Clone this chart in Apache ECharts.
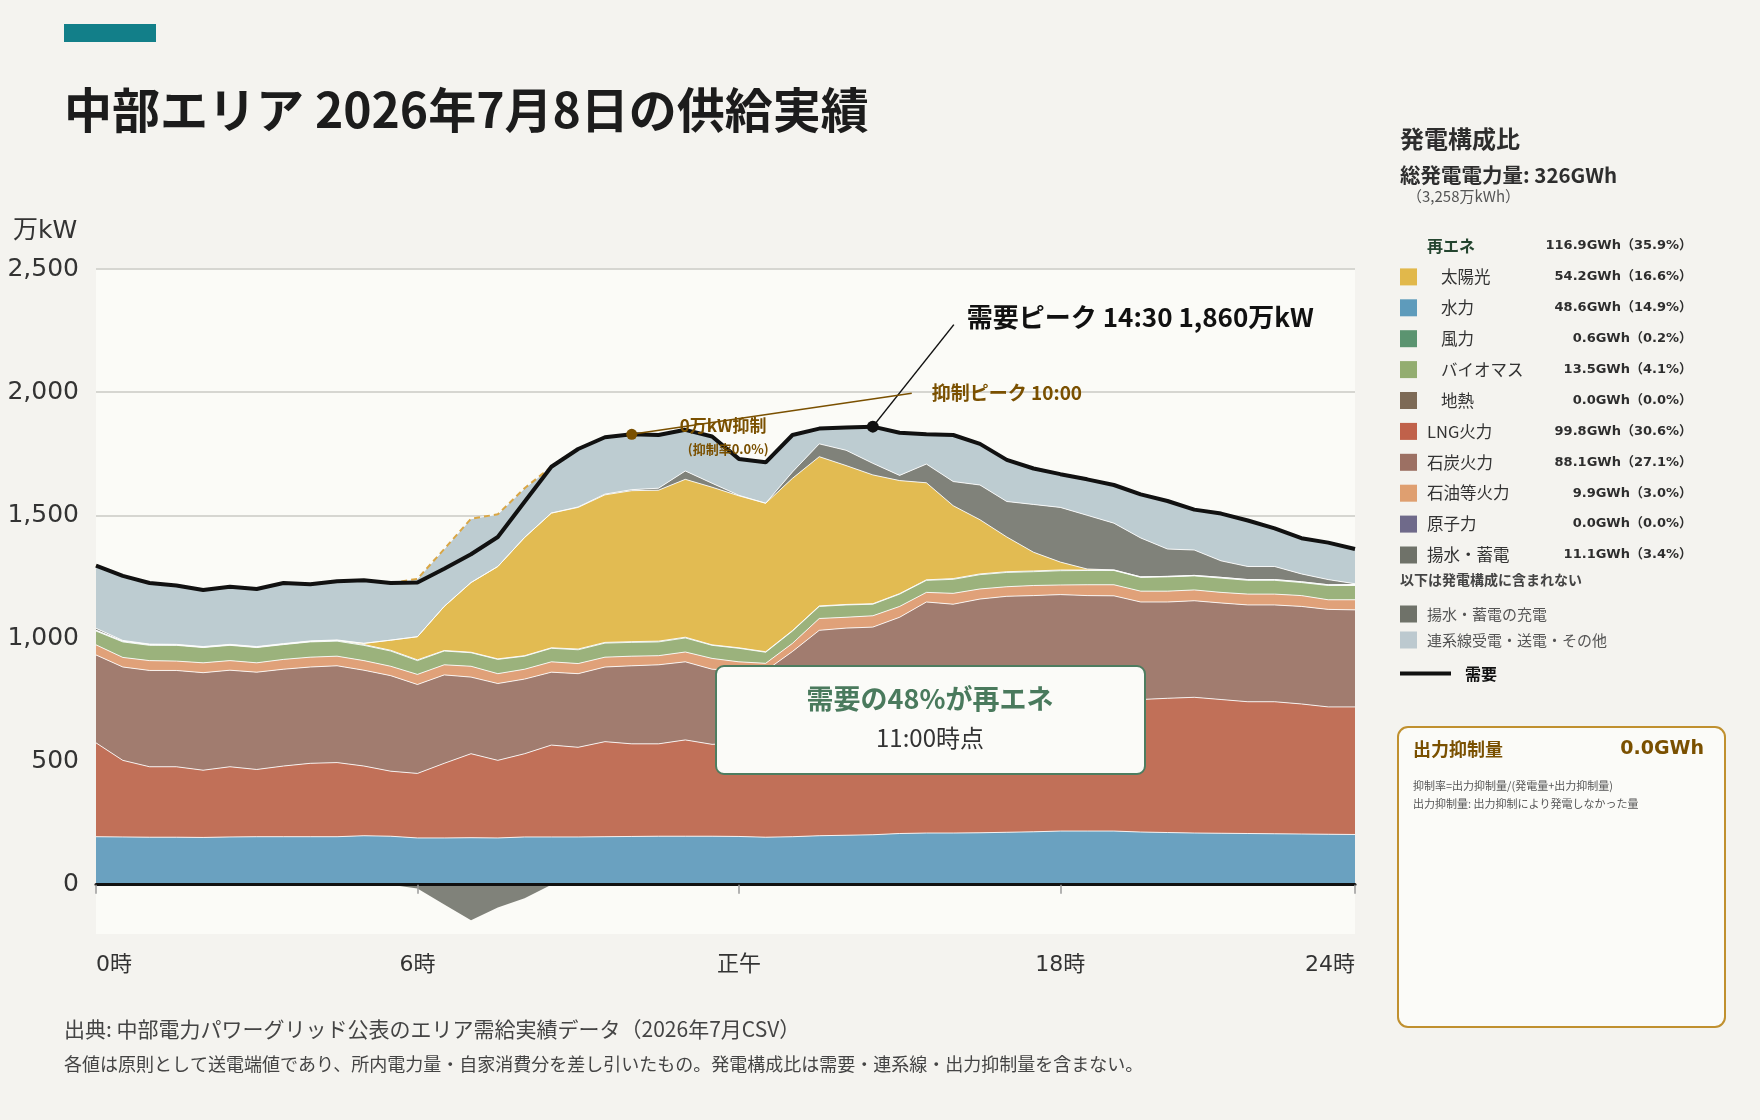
<!DOCTYPE html>
<html lang="ja">
<head>
<meta charset="UTF-8" />
<title>中部エリア 供給実績</title>
<script src="https://cdn.jsdelivr.net/npm/echarts@6/dist/echarts.min.js"></script>
<style>
  html, body { margin: 0; padding: 0; background: #f4f3ef; }
  #main { width: 1760px; height: 1120px; }
</style>
</head>
<body>
<div id="main"></div>
<script>
// 30-minute slots, 0:00 .. 23:30
const times = ['0:00','0:30','1:00','1:30','2:00','2:30','3:00','3:30','4:00','4:30','5:00','5:30',
  '6:00','6:30','7:00','7:30','8:00','8:30','9:00','9:30','10:00','10:30','11:00','11:30',
  '12:00','12:30','13:00','13:30','14:00','14:30','15:00','15:30','16:00','16:30','17:00','17:30',
  '18:00','18:30','19:00','19:30','20:00','20:30','21:00','21:30','22:00','22:30','23:00','23:30'];
const tickIndex = [0, 12, 24, 36, 47];
const tickNames = ['0時', '6時', '正午', '18時', '24時'];
const yTicks = [0, 500, 1000, 1500, 2000, 2500];

// 万kW
const hydro = [195,194,193,193,192,194,195,195,195,195, 199,197,190,190,191,190,194,194,194,195,
  196,197,197,197,196,193,195,199,201,203, 208,210,210,211,213,215,218,218,218,214, 212,210,209,208,207,206,205,204];
const lng = [381,311,286,286,273,285,273,287,298,301, 283,264,262,303,341,315,338,373,364,386,
  376,375,391,373,379,397,405,411,414,417, 422,440,460,479,497,510,517,527,532,538, 545,551,543,535,536,528,517,518];
const coal = [357,379,391,391,396,392,395,393,391,393, 389,388,361,359,311,312,303,296,299,303,
  317,321,317,305,295,279,347,423,427,426, 456,498,469,470,461,449,443,429,423,396, 391,392,392,393,393,396,396,394];
const oil = [41,39,40,38,40,39,38,40,40,39, 39,38,41,41,44,40,40,42,41,40,
  39,37,40,44,35,30,33,48,44,46, 44,39,44,41,39,41,39,44,45,44, 44,44,43,44,44,44,39,41];
const biomass = [56,63,62,64,62,62,62,60,62,61, 62,62,56,56,55,58,53,55,56,57,
  56,56,57,53,55,45,50,49,50,47, 50,49,57,58,58,56,58,58,58,56, 58,57,58,56,56,53,58,58];
const wind = [3,3,3,2,2,2,2,2,2,3, 3,3,3,2,2,2,2,2,3,3,
  3,3,3,2,2,2,2,2,2,2, 2,2,3,3,3,3,3,2,2,2, 2,2,3,3,3,3,3,3];
const solar = [0,0,0,0,0,0,0,0,0,0, 5,41,94,179,283,375,480,547,575,599,
  613,613,641,640,617,603,618,606,564,523, 459,394,296,220,141,76,32,4,0,0, 0,0,0,0,0,0,0,0];
const pumped = [8,3,2,2,2,2,2,2,2,2, 0,0,0,0,0,0,0,0,2,3,
  4,8,34,16,2,0,26,52,62,47, 21,76,98,141,144,194,222,218,190,158, 111,103,67,53,53,32,21,4];
const interconnect = [255,262,248,239,230,234,234,246,230,238, 256,232,235,233,259,212,200,188,235,231,
  225,216,167,190,148,166,150,62,92,149, 173,121,189,167,169,146,135,146,155,177, 195,164,192,187,155,145,150,141];
const charging = [0,0,0,0,0,0,0,0,0,0, 0,0,-15,-80,-144,-92,-55,0,0,0,
  0,0,0,0,0,0,0,0,0,0, 0,0,0,0,0,0,0,0,0,0, 0,0,0,0,0,0,0,0];
const demand = [1296,1254,1225,1215,1197,1210,1201,1225,1220,1232, 1236,1225,1227,1283,1342,1412,1555,1697,1769,1817,
  1829,1826,1847,1820,1729,1715,1826,1852,1856,1860, 1835,1829,1826,1790,1725,1690,1667,1646,1623,1585,
  1558,1523,1507,1479,1447,1407,1389,1363];
const curtailPeakTime = '10:00';

// generation mix panel
const mixNames = ['太陽光','水力','風力','バイオマス','地熱','LNG火力','石炭火力','石油等火力','原子力','揚水・蓄電'];
const mixGWh = [54.2, 48.6, 0.6, 13.5, 0.0, 99.8, 88.1, 9.9, 0.0, 11.1];
const mixPct = [16.6, 14.9, 0.2, 4.1, 0.0, 30.6, 27.1, 3.0, 0.0, 3.4];
const mixColors = ['#e1b84b','#5e9bbb','#5b9470','#93ad70','#7d6a56','#c0614a','#9c7063','#df9f70','#6f6a8a','#6f7269'];
const mixSub = [true, true, true, true, true, false, false, false, false, false];
const renewGWh = 116.9, renewPct = 35.9;
const totalGWh = 326, totalManKWh = 3258;
const curtailGWh = 0.0;

const FONT = '"Noto Sans CJK JP", "Noto Sans", sans-serif';
const NUMFONT = '"DejaVu Sans", "Noto Sans CJK JP", sans-serif';

function area(name, data, color) {
  return {
    name, type: 'line', stack: 'supply', data, symbol: 'none',
    lineStyle: { color: 'rgba(255,255,255,0.85)', width: 1 },
    areaStyle: { color: color, opacity: 1 },
    emphasis: { disabled: true }, z: 2
  };
}

const supplyTotal = demand.map((_, i) =>
  hydro[i] + lng[i] + coal[i] + oil[i] + biomass[i] + wind[i] + solar[i] + pumped[i] + interconnect[i]);

const chart = echarts.init(document.getElementById('main'));

chart.setOption({
  backgroundColor: '#f4f3ef',
  animation: false,
  textStyle: { fontFamily: FONT },
  grid: { left: 96, right: 405, top: 269, bottom: 186, show: true, backgroundColor: '#fbfbf7', borderWidth: 0 },
  xAxis: [
    {
      type: 'category', data: times, boundaryGap: false, z: 10,
      axisLine: { onZero: true, lineStyle: { color: '#111', width: 3 } },
      axisTick: { show: true, interval: (i) => tickIndex.includes(i), length: 9, lineStyle: { color: '#9a9a9a', width: 1.5 } },
      axisLabel: { show: false }, splitLine: { show: false }
    },
    {
      type: 'category', data: times, boundaryGap: false, position: 'bottom',
      axisLine: { show: false, onZero: false }, axisTick: { show: false }, splitLine: { show: false },
      axisLabel: {
        interval: (i) => tickIndex.includes(i),
        formatter: (v, i) => tickNames[tickIndex.indexOf(i)],
        margin: 20, fontSize: 22, color: '#333', fontFamily: NUMFONT,
        alignMinLabel: 'left', alignMaxLabel: 'right'
      }
    }
  ],
  yAxis: {
    type: 'value', min: -200, max: 2500,
    axisLine: { show: false },
    axisTick: { show: false, customValues: yTicks },
    axisLabel: { customValues: yTicks, formatter: (v) => v.toLocaleString('en-US'), fontSize: 25, color: '#333', margin: 17, fontFamily: NUMFONT },
    splitLine: { show: true, lineStyle: { color: '#d6d6d1', width: 2 } }
  },
  series: [
    area('水力', hydro, '#6aa1c0'),
    area('LNG火力', lng, '#c17058'),
    area('石炭火力', coal, '#a17c6f'),
    area('石油等火力', oil, '#e0a179'),
    area('バイオマス', biomass, '#9bb27c'),
    area('風力', wind, '#5b9470'),
    area('太陽光', solar, '#e2bb52'),
    area('揚水・蓄電', pumped, '#80827a'),
    area('連系線受電・送電・その他', interconnect, '#bdccd1'),
    {
      name: '揚水・蓄電の充電', type: 'line', stack: 'charge', data: charging, symbol: 'none',
      lineStyle: { width: 0 }, areaStyle: { color: '#80827a', opacity: 1 }, emphasis: { disabled: true }, z: 2
    },
    {
      name: '供給計', type: 'line', data: supplyTotal, symbol: 'none',
      lineStyle: { color: '#d9a645', width: 2, type: [6, 4] }, emphasis: { disabled: true }, z: 3
    },
    {
      name: '需要', type: 'line', data: demand, symbol: 'none',
      lineStyle: { color: '#111', width: 4 }, emphasis: { disabled: true }, z: 5
    }
  ]
});

// annotation positions come from the chart's own scales
const peakIdx = demand.indexOf(Math.max(...demand));
const curtIdx = times.indexOf(curtailPeakTime);
const pk = chart.convertToPixel({ xAxisIndex: 0, yAxisIndex: 0 }, [peakIdx, demand[peakIdx]]);
const cp = chart.convertToPixel({ xAxisIndex: 0, yAxisIndex: 0 }, [curtIdx, demand[curtIdx]]);

function txt(text, x, y, font, fill, align) {
  return { type: 'text', x, y, z: 50, silent: true,
    style: { text, font, fill, textAlign: align || 'left', textVerticalAlign: 'middle' } };
}

const g = [];
// header
g.push({ type: 'rect', shape: { x: 64, y: 24, width: 92, height: 18 }, style: { fill: '#127f89' }, silent: true });
g.push(txt('中部エリア 2026年7月8日の供給実績', 64, 110, 'bold 48px ' + FONT, '#1c1c1c'));
g.push(txt('万kW', 13, 231, '25px ' + NUMFONT, '#333'));

// demand peak
g.push({ type: 'line', z: 40, silent: true, shape: { x1: pk[0], y1: pk[1], x2: pk[0] + 81, y2: pk[1] - 102 },
  style: { stroke: '#111', lineWidth: 1.5 } });
g.push({ type: 'circle', z: 41, silent: true, shape: { cx: pk[0], cy: pk[1], r: 6 }, style: { fill: '#111' } });
g.push(txt('需要ピーク ' + times[peakIdx] + ' ' + demand[peakIdx].toLocaleString('en-US') + '万kW',
  pk[0] + 94, pk[1] - 110, 'bold 26px ' + FONT, '#111'));

// curtailment peak
g.push({ type: 'line', z: 40, silent: true, shape: { x1: cp[0], y1: cp[1], x2: cp[0] + 280, y2: cp[1] - 41 },
  style: { stroke: '#7a5000', lineWidth: 1.5 } });
g.push({ type: 'circle', z: 41, silent: true, shape: { cx: cp[0], cy: cp[1], r: 5.5 }, style: { fill: '#7a5000' } });
g.push(txt('抑制ピーク ' + curtailPeakTime, cp[0] + 300, cp[1] - 41, 'bold 19px ' + FONT, '#7a5000'));
g.push(txt('0万kW抑制', cp[0] + 48, cp[1] - 9, 'bold 17px ' + FONT, '#7a5000'));
g.push(txt('(抑制率0.0%)', cp[0] + 56, cp[1] + 15, 'bold 13px ' + FONT, '#7a5000'));

// renewable share callout
g.push({ type: 'rect', z: 45, silent: true, shape: { x: 716, y: 666, width: 429, height: 108, r: 8 },
  style: { fill: '#fbfbf8', stroke: '#4d7d60', lineWidth: 2 } });
g.push(txt('需要の48%が再エネ', 930, 699, 'bold 27px ' + FONT, '#4a7a5d', 'center'));
g.push(txt('11:00時点', 930, 738, '24px ' + FONT, '#333', 'center'));

// generation mix panel
g.push(txt('発電構成比', 1400, 139, 'bold 24px ' + FONT, '#2e2e2e'));
g.push(txt('総発電電力量: ' + totalGWh + 'GWh', 1400, 175, 'bold 20.5px ' + FONT, '#2e2e2e'));
g.push(txt('（' + totalManKWh.toLocaleString('en-US') + '万kWh）', 1407, 196, '15px ' + FONT, '#555'));
const rowY0 = 246, rowStep = 30.9;
const valRight = 1692;
g.push(txt('再エネ', 1427, rowY0, 'bold 16px ' + FONT, '#24452f'));
g.push(txt(renewGWh.toFixed(1) + 'GWh（' + renewPct.toFixed(1) + '%）', valRight, rowY0, 'bold 13px ' + NUMFONT, '#2e2e2e', 'right'));
mixNames.forEach((n, i) => {
  const y = rowY0 + rowStep * (i + 1);
  g.push({ type: 'rect', silent: true, shape: { x: 1400, y: y - 8.5, width: 17, height: 17 }, style: { fill: mixColors[i] } });
  g.push(txt(n, mixSub[i] ? 1441 : 1427, y, '16.5px ' + FONT, '#333'));
  g.push(txt(mixGWh[i].toFixed(1) + 'GWh（' + mixPct[i].toFixed(1) + '%）', valRight, y, 'bold 13px ' + NUMFONT, '#2e2e2e', 'right'));
});
g.push(txt('以下は発電構成に含まれない', 1400, 580, 'bold 14px ' + FONT, '#444'));
g.push({ type: 'rect', silent: true, shape: { x: 1400, y: 605.5, width: 17, height: 17 }, style: { fill: '#6f7269' } });
g.push(txt('揚水・蓄電の充電', 1427, 614, '15px ' + FONT, '#555'));
g.push({ type: 'rect', silent: true, shape: { x: 1400, y: 631.5, width: 17, height: 17 }, style: { fill: '#bcc9cf' } });
g.push(txt('連系線受電・送電・その他', 1427, 640, '15px ' + FONT, '#555'));
g.push({ type: 'line', silent: true, shape: { x1: 1400, y1: 673.5, x2: 1451, y2: 673.5 }, style: { stroke: '#111', lineWidth: 4 } });
g.push(txt('需要', 1465, 673.5, 'bold 16px ' + FONT, '#111'));

// curtailment box
g.push({ type: 'rect', silent: true, shape: { x: 1398, y: 727, width: 327, height: 300, r: 10 },
  style: { fill: '#fbfbf8', stroke: '#c0902f', lineWidth: 2 } });
g.push(txt('出力抑制量', 1413, 749, 'bold 18px ' + FONT, '#7a5000'));
g.push(txt(curtailGWh.toFixed(1) + 'GWh', 1704, 749, 'bold 19px ' + NUMFONT, '#7a5000', 'right'));
g.push(txt('抑制率=出力抑制量/(発電量+出力抑制量)', 1413, 786, '11px ' + FONT, '#555'));
g.push(txt('出力抑制量: 出力抑制により発電しなかった量', 1413, 804, '11px ' + FONT, '#555'));

// footer
g.push(txt('出典: 中部電力パワーグリッド公表のエリア需給実績データ（2026年7月CSV）', 64, 1029, '21px ' + FONT, '#444'));
g.push(txt('各値は原則として送電端値であり、所内電力量・自家消費分を差し引いたもの。発電構成比は需要・連系線・出力抑制量を含まない。', 64, 1064, '18px ' + FONT, '#444'));

chart.setOption({ graphic: g });
</script>
</body>
</html>
